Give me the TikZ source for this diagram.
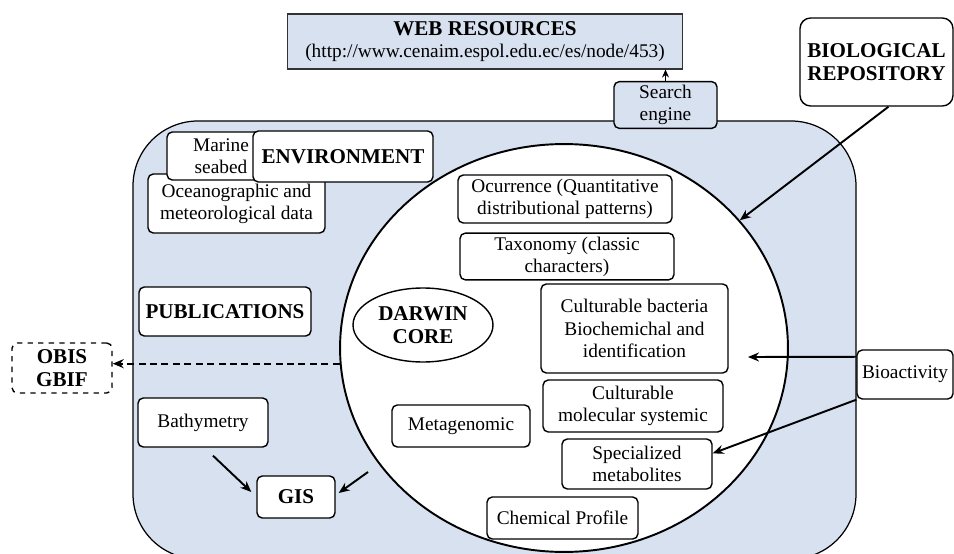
\documentclass[tikz,border=0pt]{standalone}
\usepackage{fontspec}
\setmainfont{Liberation Serif}
\usepackage{tikz}
\usetikzlibrary{positioning,shapes.geometric,arrows.meta,calc}
\definecolor{panel}{RGB}{216,225,240}
\newcommand{\hfont}{\fontsize{12}{12.8}\selectfont\bfseries}
\tikzset{
  box/.style     = {rectangle, rounded corners=3pt, draw=black, line width=0.8pt,
                    fill=white, align=center, inner sep=2pt},
  head/.style    = {box, font=\hfont},
  bigbox/.style  = {box, rounded corners=6pt, font=\hfont},
  webbox/.style  = {rectangle, draw=black!80, line width=0.6pt, fill=panel,
                    align=center, inner sep=2pt},
  ext/.style     = {box, dashed, font=\hfont},
  core/.style    = {ellipse, draw=black, line width=1.1pt, fill=white, inner sep=0pt},
  flow/.style    = {-{Stealth[length=2.2mm,width=1.8mm]}, line width=1.1pt, black},
  dflow/.style   = {flow, dash pattern=on 4pt off 2.5pt},
}

\begin{document}
\begin{tikzpicture}[x=0.02cm, y=-0.02cm, font=\fontsize{11}{12.6}\selectfont]
        \useasboundingbox (0,0) rectangle (954,554);

        % blue panel and the big circle
        \begin{scope}
          \clip (0,0) rectangle (954,554);
          \draw[line width=0.7pt, fill=panel, rounded corners=1.3cm] (133,121) rectangle (856,559);
        \end{scope}
        \node[core, minimum width=8.96cm, minimum height=8.16cm] (circ) at (564,348) {};

        % top
        \node[webbox, minimum width=7.92cm, minimum height=1.1cm] (web) at (485,41.5)
          {{\hfont WEB RESOURCES}\\(http://www.cenaim.espol.edu.ec/es/node/453)};
        \node[box, fill=panel, minimum width=2.06cm, minimum height=0.88cm] (search) at (665.5,105)
          {Search\\engine};
        \node[bigbox, minimum width=3.06cm, minimum height=1.76cm] (bio) at (876.5,62)
          {BIOLOGICAL\\REPOSITORY};

        % left side of the panel
        \node[box, minimum width=3.54cm, minimum height=1.18cm] (ocean) at (236.5,203.5)
          {Oceanographic and\\meteorological data};
        \node[box, minimum width=2.16cm, minimum height=0.96cm] (marine) at (221,156)
          {Marine\\seabed};
        \node[head, minimum width=3.6cm, minimum height=1.02cm] (env) at (343,156.5) {ENVIRONMENT};
        \node[head, minimum width=3.44cm, minimum height=0.98cm] (pubs) at (225,311.5) {PUBLICATIONS};
        \node[ext, minimum width=2.0cm, minimum height=1.0cm] (obis) at (62,368) {OBIS\\GBIF};
        \node[box, minimum width=2.6cm, minimum height=0.98cm] (bathy) at (203,422.5) {Bathymetry};
        \node[head, minimum width=1.56cm, minimum height=0.84cm] (gis) at (296,497) {GIS};

        % inside the circle
        \node[ellipse, draw=black, line width=0.8pt, fill=white, font=\hfont, align=center,
              inner sep=0pt, minimum width=2.8cm, minimum height=1.48cm] (dwc) at (423,325)
          {DARWIN\\CORE};
        \node[box, minimum width=4.28cm, minimum height=0.96cm] (occur) at (565,199)
          {Ocurrence (Quantitative\\distributional patterns)};
        \node[box, minimum width=4.28cm, minimum height=0.9cm] (taxo) at (567,256.5)
          {Taxonomy (classic\\characters)};
        \node[box, minimum width=3.74cm, minimum height=1.78cm] (bact) at (634.5,328.5)
          {Culturable bacteria\\Biochemichal and\\identification};
        \node[box, minimum width=3.6cm, minimum height=1.04cm] (molec) at (633,406)
          {Culturable\\molecular systemic};
        \node[box, minimum width=3.0cm, minimum height=1.0cm] (metab) at (637,464)
          {Specialized\\metabolites};
        \node[box, minimum width=2.76cm, minimum height=0.84cm] (metag) at (461,426) {Metagenomic};
        \node[box, minimum width=3.02cm, minimum height=0.84cm] (chem) at (562.5,518) {Chemical Profile};

        % right
        \node[box, minimum width=1.92cm, minimum height=0.98cm] (bioact) at (905,374.5) {Bioactivity};

        % connectors
        \coordinate (biotip) at (748,357);
        \coordinate (gisfrom) at (368,472);
        \draw[flow, line width=0.7pt, -{Stealth[length=1.6mm,width=1.4mm]}] (search.north) -- (search.north |- web.south);
        \draw[flow] ($(bio.south)+(12,0)$) -- (circ.36);
        \draw[dflow] (circ.184) -- (circ.184 -| obis.east);
        \draw[flow] ($(bathy.south)+(10,8)$) -- ($(gis.west)+(-5,-5)$);
        \draw[flow] (gisfrom) -- ($(gis.east)+(3,-4)$);
        \draw[flow] (bioact.160) -- (biotip);
        \draw[flow] (bioact.south west) -- (metab.8);
    \end{tikzpicture}
\end{document}
